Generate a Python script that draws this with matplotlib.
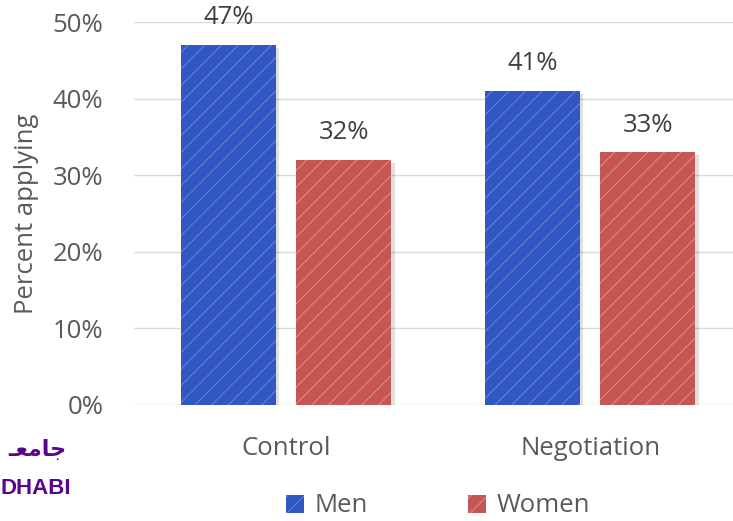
import numpy as np
import matplotlib.pyplot as plt

plt.rcParams['font.family'] = ['Open Sans', 'DejaVu Sans']
plt.rcParams['hatch.linewidth'] = 0.5

# data
categories = ['Control', 'Negotiation']
men = [0.47, 0.41]
women = [0.32, 0.33]
series_names = ['Men', 'Women']
yticks = [0, 0.1, 0.2, 0.3, 0.4, 0.5]

blue = '#3157C2'
red = '#C65652'
text_col = '#595959'
fs = 18.5

fig = plt.figure(figsize=(7.33, 5.21), dpi=100)
ax = fig.add_axes([134 / 733, 116 / 521, 599 / 733, 383 / 521])

x = np.arange(len(categories))
w = 0.3125
off = 0.19

for vals, col, hcol, sign, name in [(men, blue, '#7D96E0', -1, series_names[0]),
                                    (women, red, '#E7A3A0', 1, series_names[1])]:
    pos = x + sign * off
    # soft shadow
    ax.bar(pos + 0.012, vals, w, bottom=-0.004, color='#000000', alpha=0.12,
           zorder=2, linewidth=0)
    bars = ax.bar(pos, vals, w, color=col, zorder=3, linewidth=0, label=name)
    for b in bars:
        b.set_hatch('//')
        b.set_edgecolor(hcol)
        b.set_linewidth(0)
    for p, v in zip(pos, vals):
        ax.text(p, v + 0.019, f'{v * 100:.0f}%', ha='center', va='bottom',
                fontsize=fs, color='#404040')

ax.set_xlim(-0.5, 1.47)
ax.set_ylim(0, 0.5)
ax.set_yticks(yticks)
ax.set_yticklabels([f'{t * 100:.0f}%' for t in yticks])
ax.set_xticks(x)
ax.set_xticklabels(categories)
ax.tick_params(axis='both', length=0, labelsize=fs, colors=text_col)
ax.tick_params(axis='y', pad=22)
ax.tick_params(axis='x', pad=22)
ax.yaxis.grid(True, color='#D9D9D9', linewidth=1, zorder=0)
ax.set_axisbelow(True)
for s in ax.spines.values():
    s.set_visible(False)
ax.set_ylabel('Percent applying', fontsize=fs, color=text_col)
ax.yaxis.set_label_coords(-0.158, 0.5)

leg = fig.legend(loc='center', bbox_to_anchor=(438 / 733, 1 - 506 / 521), ncol=2,
                 frameon=False, fontsize=fs, handlelength=0.7,
                 handleheight=0.7, handletextpad=0.4, columnspacing=3.9)
for t in leg.get_texts():
    t.set_color(text_col)

# logo fragment at lower left
fig.text(66 / 733, 1 - 450 / 521, '\u0640\uFECC\uFEE3\uFE8E\uFE9F', ha='right',
         va='center', fontsize=16, color='#57068C', fontweight='bold',
         family=['DejaVu Sans'])
fig.text(1 / 733, 1 - 489 / 521, 'DHABI', ha='left', va='center',
         fontsize=16, color='#57068C', fontweight='bold',
         family=['Liberation Sans Narrow', 'Liberation Sans', 'DejaVu Sans'])

fig.savefig('out.png', dpi=100)
